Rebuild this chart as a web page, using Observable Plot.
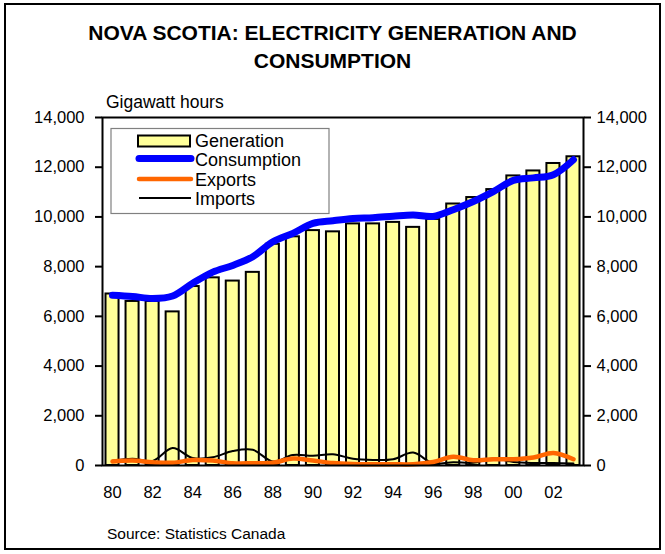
<!DOCTYPE html>
<html>
<head>
<meta charset="utf-8">
<script src="https://cdn.jsdelivr.net/npm/d3@7"></script>
<script src="https://cdn.jsdelivr.net/npm/@observablehq/plot@0.6"></script>
<style>
  html, body { margin: 0; padding: 0; background: #fff; }
  #wrap { position: relative; width: 665px; height: 554px; font-family: "Liberation Sans", Arial, sans-serif; overflow: hidden; }
  #border { position: absolute; left: 4px; top: 3px; width: 653px; height: 543px; border: 2.5px solid #000; }
  #title { position: absolute; left: 0; width: 665px; top: 19px; text-align: center; font-weight: bold; font-size: 21px; line-height: 28px; }
  #unit { position: absolute; left: 106px; top: 92px; font-size: 17.5px; }
  #chart { position: absolute; left: 0; top: 90px; }
  #legend { position: absolute; left: 0; top: 0; }
  #source { position: absolute; left: 107px; top: 525px; font-size: 15.5px; }
</style>
</head>
<body>
<div id="wrap">
  <div id="border"></div>
  <div id="title">NOVA SCOTIA: ELECTRICITY GENERATION AND<br>CONSUMPTION</div>
  <div id="unit">Gigawatt hours</div>
  <div id="chart"></div>
  <div id="source">Source: Statistics Canada</div>
</div>
<script>
// Annual electricity figures for Nova Scotia, gigawatt hours
const years       = [1980, 1981, 1982, 1983, 1984, 1985, 1986, 1987, 1988, 1989, 1990, 1991,
                     1992, 1993, 1994, 1995, 1996, 1997, 1998, 1999, 2000, 2001, 2002, 2003];
const generation  = [6900, 6600, 6600, 6180, 7200, 7550, 7420, 7770, 8900, 9200, 9450, 9400,
                     9720, 9720, 9780, 9580, 9900, 10520, 10780, 11100, 11650, 11850, 12150, 12420];
const consumption = [6850, 6800, 6720, 6820, 7330, 7780, 8050, 8400, 9000, 9340, 9740, 9850,
                     9940, 9970, 10030, 10080, 10020, 10290, 10620, 11020, 11470, 11570, 11700, 12300];
const exportsGWh  = [160, 200, 130, 110, 220, 200, 90, 90, 110, 280, 200, 100,
                     60, 50, 50, 50, 140, 350, 210, 250, 250, 320, 500, 250];
const importsGWh  = [190, 270, 180, 700, 300, 330, 580, 630, 160, 420, 390, 450,
                     270, 220, 250, 520, 80, 130, 110, 280, 140, 100, 100, 80];

// Axis ticks
const yTicks      = [0, 2000, 4000, 6000, 8000, 10000, 12000, 14000];
const xTickYears  = [1980, 1982, 1984, 1986, 1988, 1990, 1992, 1994, 1996, 1998, 2000, 2002];
const xTickLabels = ["80", "82", "84", "86", "88", "90", "92", "94", "96", "98", "00", "02"];

// Legend entries
const legendItems = [
  {label: "Generation", kind: "bar"},
  {label: "Consumption", kind: "line", color: "#0000FF", width: 7},
  {label: "Exports", kind: "line", color: "#FF6600", width: 4.5},
  {label: "Imports", kind: "line", color: "#000000", width: 2}
];

const rows = years.map((year, i) => ({
  year,
  generation: generation[i],
  consumption: consumption[i],
  exports: exportsGWh[i],
  imports: importsGWh[i]
}));

const fmt = d3.format(",");
const xLabel = new Map(xTickYears.map((y, i) => [y, xTickLabels[i]]));

const chart = Plot.plot({
  width: 665,
  height: 420,
  marginTop: 27,
  marginBottom: 45,
  marginLeft: 102,
  marginRight: 82,
  x: {type: "linear", domain: [1979.5, 2003.5]},
  y: {domain: [0, 14000]},
  style: {fontFamily: "'Liberation Sans', Arial, sans-serif", fontSize: "16.5px", color: "#000", background: "transparent", overflow: "visible"},
  marks: [
    Plot.rectY(rows, {
      x1: d => d.year - 0.5, x2: d => d.year + 0.5, y1: 0, y2: "generation",
      insetLeft: 3.5, insetRight: 3.5,
      fill: "#FFFF99", stroke: "#000", strokeWidth: 2
    }),
    Plot.lineY(rows, {x: "year", y: "imports", stroke: "#000", strokeWidth: 2, curve: "catmull-rom"}),
    Plot.lineY(rows, {x: "year", y: "exports", stroke: "#FF6600", strokeWidth: 4.5, curve: "catmull-rom", strokeLinecap: "round"}),
    Plot.lineY(rows, {x: "year", y: "consumption", stroke: "#0000FF", strokeWidth: 7, curve: "catmull-rom", strokeLinecap: "round", strokeLinejoin: "round"}),
    Plot.frame({stroke: "#000", strokeWidth: 2}),
    Plot.axisY({anchor: "left", ticks: yTicks, tickFormat: fmt, tickSize: 7, tickPadding: 11, strokeWidth: 2, label: null}),
    Plot.axisY({anchor: "right", ticks: yTicks, tickFormat: fmt, tickSize: 7, tickPadding: 6, strokeWidth: 2, label: null}),
    Plot.axisX({ticks: xTickYears, tickFormat: d => xLabel.get(d), tickSize: 0, tickPadding: 21, label: null})
  ]
});
document.getElementById("chart").appendChild(chart);

// Legend box drawn over the plot area
const lg = d3.create("svg")
  .attr("id", "legend")
  .attr("width", 665)
  .attr("height", 554)
  .style("position", "absolute")
  .style("left", "0px")
  .style("top", "0px")
  .style("font-family", "'Liberation Sans', Arial, sans-serif");
lg.append("rect")
  .attr("x", 111).attr("y", 128.5).attr("width", 218).attr("height", 85)
  .attr("fill", "#fff").attr("stroke", "#808080").attr("stroke-width", 1.2);
const rowY = [141, 159.5, 180, 199];
legendItems.forEach((item, i) => {
  const cy = rowY[i];
  if (item.kind === "bar") {
    lg.append("rect").attr("x", 138).attr("y", cy - 5.5).attr("width", 52).attr("height", 11)
      .attr("fill", "#FFFF99").attr("stroke", "#000").attr("stroke-width", 2);
  } else {
    lg.append("line").attr("x1", 139).attr("x2", 191).attr("y1", cy - 1).attr("y2", cy - 1)
      .attr("stroke", item.color).attr("stroke-width", item.width)
      .attr("stroke-linecap", item.width > 3 ? "round" : "butt");
  }
  lg.append("text").attr("x", 195).attr("y", cy).attr("dy", "0.35em")
    .attr("font-size", 18).text(item.label);
});
document.getElementById("wrap").appendChild(lg.node());
</script>
</body>
</html>
